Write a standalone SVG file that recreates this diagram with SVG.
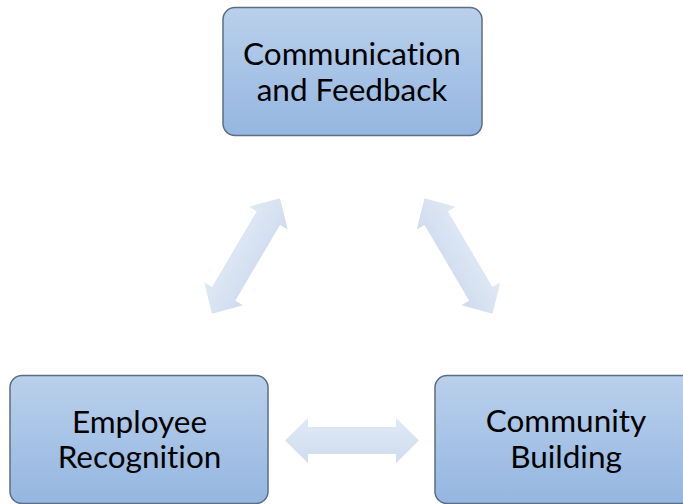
<svg xmlns="http://www.w3.org/2000/svg" width="683" height="504" viewBox="0 0 683 504">
  <defs>
    <linearGradient id="boxFill" x1="0" y1="0" x2="0" y2="1">
      <stop offset="0" stop-color="#bad0ec"/>
      <stop offset="1" stop-color="#94b6e0"/>
    </linearGradient>
    <linearGradient id="arrowFill" x1="0" y1="0" x2="0" y2="1">
      <stop offset="0" stop-color="#e0e9f5"/>
      <stop offset="1" stop-color="#cfdcef"/>
    </linearGradient>
    <polygon id="dblArrow" points="-67,0 -44,-22.5 -44,-13.5 44,-13.5 44,-22.5 67,0 44,22.5 44,13.5 -44,13.5 -44,22.5"/>
  </defs>
  <style>
    .box { fill: url(#boxFill); stroke: #5c6d84; stroke-width: 1.5; }
    .lbl { font-family: Lato, "Liberation Sans", sans-serif; font-size: 31.5px; fill: #000; text-anchor: middle; font-variant-ligatures: none; font-feature-settings: "liga" 0, "clig" 0; }
    .arrow { fill: url(#arrowFill); }
  </style>
  <rect width="683" height="504" fill="#ffffff"/>
  <g id="connectors">
    <use href="#dblArrow" class="arrow" transform="translate(246,256) rotate(-59.5)"/>
    <use href="#dblArrow" class="arrow" transform="translate(458.5,256) rotate(59.5)"/>
    <use href="#dblArrow" class="arrow" transform="translate(352,440.5)"/>
  </g>
  <g id="node-communication">
    <rect class="box" x="223" y="7.5" width="259" height="128" rx="12"/>
    <text class="lbl" x="352" y="65">Communication</text>
    <text class="lbl" x="352" y="101">and Feedback</text>
  </g>
  <g id="node-employee">
    <rect class="box" x="10" y="375.5" width="258" height="128" rx="12"/>
    <text class="lbl" x="139.5" y="433">Employee</text>
    <text class="lbl" x="139.5" y="468">Recognition</text>
  </g>
  <g id="node-community">
    <rect class="box" x="435" y="375.5" width="259" height="128" rx="12"/>
    <text class="lbl" x="566" y="432">Community</text>
    <text class="lbl" x="566" y="468">Building</text>
  </g>
</svg>
